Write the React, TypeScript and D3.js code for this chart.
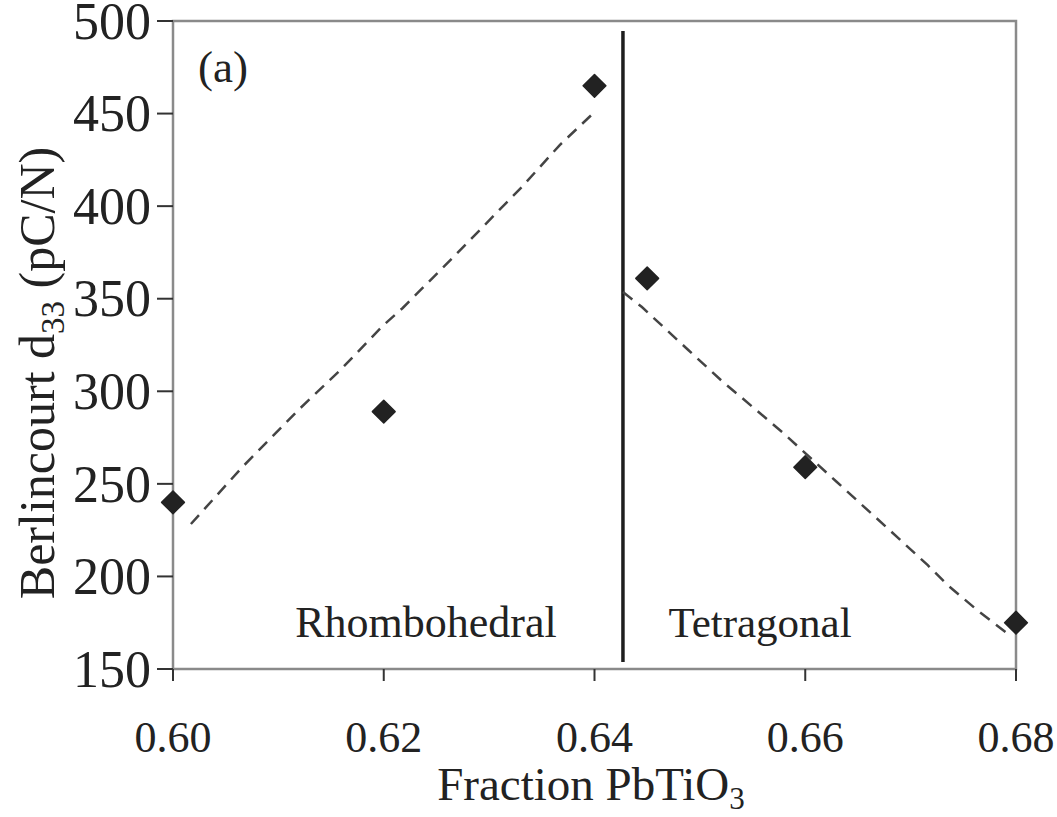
import React from "react";
import * as d3 from "d3";

// Measured d33 values vs. PbTiO3 fraction
const fractions = [0.6, 0.62, 0.64, 0.645, 0.66, 0.68];
const d33Values = [240, 289, 465, 361, 259, 175];

// Trend guide through the rhombohedral side
const rhomboTrendX = [0.6017, 0.6065, 0.6121, 0.6158, 0.6199, 0.6218, 0.6268, 0.6317, 0.6331, 0.6367, 0.6402];
const rhomboTrendY = [228.3, 258.6, 291.0, 311.0, 335.3, 345.0, 373.6, 402.2, 410.3, 433.0, 451.9];

// Trend guide through the tetragonal side
const tetraTrendX = [0.6427, 0.6445, 0.6489, 0.6522, 0.654, 0.6579, 0.663, 0.6682, 0.6716, 0.6735, 0.6763, 0.679];
const tetraTrendY = [353.6, 345.5, 322.3, 305.0, 296.4, 277.5, 251.0, 224.0, 206.2, 195.4, 181.9, 170.0];

// Morphotropic phase boundary
const boundaryX = 0.6427;
const boundaryRange = [153.8, 494.6];

const xTicks = [0.6, 0.62, 0.64, 0.66, 0.68];
const yTicks = [150, 200, 250, 300, 350, 400, 450, 500];

const W = 1057;
const H = 817;
const left = 173;
const right = 1016;
const top = 21;
const bottom = 669;

const FONT = "Liberation Serif, DejaVu Serif, serif";
const textStyle = { fontFamily: FONT };

export default function App() {
  const x = d3.scaleLinear().domain([0.6, 0.68]).range([left, right]);
  const y = d3.scaleLinear().domain([150, 500]).range([bottom, top]);

  const line = d3
    .line<[number, number]>()
    .x((d) => x(d[0]))
    .y((d) => y(d[1]));

  const rhombo = rhomboTrendX.map((v, i) => [v, rhomboTrendY[i]] as [number, number]);
  const tetra = tetraTrendX.map((v, i) => [v, tetraTrendY[i]] as [number, number]);

  const diamond = d3.symbol().type(d3.symbolDiamond2).size(330)();

  const axisColor = "#8a8a8a";
  const tickColor = "#333";
  const textColor = "#222";

  return (
    <svg
      width={W}
      height={H}
      style={{ position: "absolute", left: 0, top: 0, display: "block", background: "#fff" }}
    >
      {/* frame */}
      <rect
        x={left}
        y={top}
        width={right - left}
        height={bottom - top}
        fill="none"
        stroke={axisColor}
        strokeWidth={2.5}
      />

      {/* y ticks */}
      {yTicks.map((t) => (
        <g key={"y" + t}>
          <line x1={left - 16} x2={left} y1={y(t)} y2={y(t)} stroke={tickColor} strokeWidth={2} />
          <text
            x={151}
            y={y(t)}
            dy="0.34em"
            textAnchor="end"
            fontSize={52}
            fill={textColor}
            style={textStyle}
          >
            {t}
          </text>
        </g>
      ))}

      {/* x ticks */}
      {xTicks.map((t) => (
        <g key={"x" + t}>
          <line x1={x(t)} x2={x(t)} y1={bottom} y2={bottom + 12} stroke={tickColor} strokeWidth={2} />
          <text
            x={x(t)}
            y={752}
            textAnchor="middle"
            fontSize={44}
            fill={textColor}
            style={textStyle}
          >
            {d3.format(".2f")(t)}
          </text>
        </g>
      ))}

      {/* phase boundary */}
      <line
        x1={x(boundaryX)}
        x2={x(boundaryX)}
        y1={y(boundaryRange[0])}
        y2={y(boundaryRange[1])}
        stroke="#1e1e1e"
        strokeWidth={3.5}
      />

      {/* trend guides */}
      <path d={line(rhombo) ?? ""} fill="none" stroke="#444" strokeWidth={2.5} strokeDasharray="12 8" />
      <path d={line(tetra) ?? ""} fill="none" stroke="#444" strokeWidth={2.5} strokeDasharray="12 8" />

      {/* data points */}
      {fractions.map((f, i) => (
        <path
          key={"p" + i}
          d={diamond ?? ""}
          transform={`translate(${x(f)},${y(d33Values[i])})`}
          fill="#222"
          stroke="#222"
          strokeWidth={1.5}
          strokeLinejoin="round"
        />
      ))}

      {/* annotations */}
      <text x={198} y={82} fontSize={45} fill={textColor} style={textStyle}>
        (a)
      </text>
      <text x={426} y={637} fontSize={44} textAnchor="middle" fill={textColor} style={textStyle}>
        Rhombohedral
      </text>
      <text x={760} y={637} fontSize={43} textAnchor="middle" fill={textColor} style={textStyle}>
        Tetragonal
      </text>

      {/* axis titles */}
      <text x={591} y={800} fontSize={47} textAnchor="middle" fill={textColor} style={textStyle}>
        Fraction PbTiO
        <tspan fontSize={31} dy={9}>3</tspan>
      </text>
      <text
        transform={`translate(54, 373) rotate(-90)`}
        fontSize={50}
        textAnchor="middle"
        fill={textColor}
        style={textStyle}
      >
        Berlincourt d
        <tspan fontSize={33} dy={10}>33</tspan>
        <tspan dy={-10}> (pC/N)</tspan>
      </text>
    </svg>
  );
}
